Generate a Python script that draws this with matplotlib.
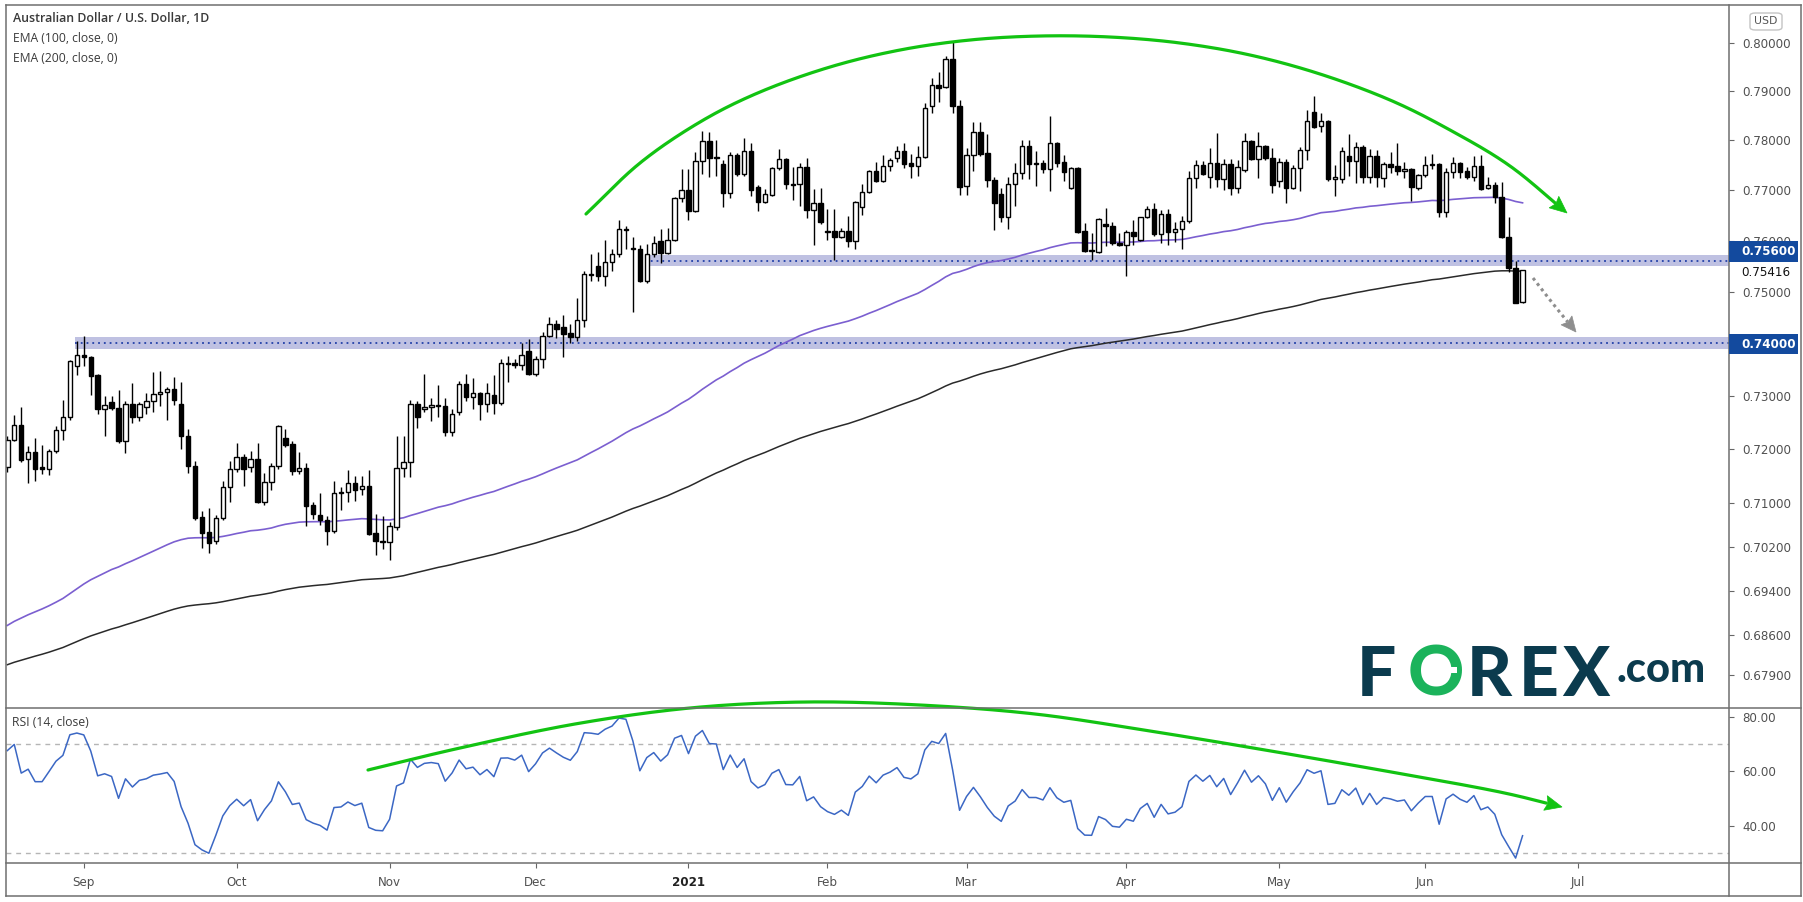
import numpy as np
import pandas as pd
import matplotlib
matplotlib.use("Agg")
import matplotlib.pyplot as plt
from matplotlib.patches import Rectangle, FancyBboxPatch, Polygon
from matplotlib.lines import Line2D
from matplotlib.ticker import NullLocator, FixedLocator, FixedFormatter

# ------------------------------------------------------------------ data
opens = [.7166,.7217,.7245,.7181,.7194,.7166,.7162,.7196,.7235,.7259,.7357,.7377,.7373,.7339,.7275,.7288,.7277,.7214,.7284,.7259,
         .7278,.7290,.7303,.7307,.7312,.7284,.7225,.7169,.7074,.7046,.7031,.7072,.7129,.7163,.7185,.7167,.7182,.7102,.7138,.7168,
         .7220,.7209,.7159,.7164,.7096,.7078,.7069,.7048,.7118,.7120,.7136,.7125,.7131,.7044,.7031,.7028,.7055,.7164,.7176,.7284,
         .7275,.7279,.7282,.7281,.7232,.7270,.7322,.7298,.7305,.7285,.7302,.7287,.7361,.7362,.7358,.7386,.7342,.7370,.7415,.7437,
         .7432,.7420,.7412,.7444,.7534,.7549,.7531,.7557,.7574,.7622,.7585,.7584,.7521,.7573,.7600,.7576,.7602,.7684,.7700,.7659,
         .7758,.7798,.7766,.7752,.7695,.7770,.7732,.7778,.7706,.7677,.7690,.7744,.7762,.7713,.7712,.7746,.7660,.7675,.7619,.7619,
         .7607,.7619,.7600,.7666,.7697,.7738,.7718,.7748,.7765,.7778,.7754,.7749,.7766,.7869,.7912,.7908,.7966,.7869,.7709,.7770,
         .7816,.7774,.7721,.7692,.7647,.7712,.7734,.7788,.7755,.7754,.7743,.7794,.7756,.7705,.7744,.7618,.7581,.7578,.7633,.7629,
         .7596,.7592,.7616,.7602,.7646,.7662,.7612,.7652,.7617,.7622,.7638,.7724,.7750,.7726,.7754,.7722,.7752,.7704,.7740,.7798,
         .7762,.7788,.7764,.7718,.7756,.7705,.7744,.7780,.7857,.7829,.7839,.7722,.7722,.7768,.7759,.7787,.7726,.7769,.7724,.7752,
         .7748,.7739,.7743,.7704,.7730,.7752,.7752,.7657,.7737,.7754,.7738,.7727,.7748,.7704,.7710,.7686,.7606,.7547,.7479]
highs = [.7224,.7264,.7279,.7206,.7220,.7207,.7199,.7243,.7292,.7368,.7404,.7415,.7375,.7341,.7300,.7300,.7311,.7291,.7325,.7288,
         .7305,.7346,.7347,.7316,.7336,.7327,.7238,.7177,.7085,.7091,.7078,.7140,.7177,.7212,.7191,.7196,.7212,.7155,.7173,.7245,
         .7237,.7214,.7195,.7174,.7102,.7118,.7075,.7140,.7129,.7161,.7150,.7150,.7161,.7080,.7076,.7064,.7224,.7224,.7292,.7290,
         .7341,.7295,.7320,.7295,.7275,.7328,.7341,.7333,.7308,.7325,.7339,.7370,.7376,.7370,.7400,.7408,.7376,.7421,.7451,.7444,
         .7454,.7437,.7488,.7541,.7574,.7578,.7601,.7583,.7640,.7628,.7606,.7592,.7594,.7609,.7622,.7625,.7687,.7743,.7743,.7777,
         .7820,.7818,.7801,.7760,.7777,.7774,.7805,.7795,.7710,.7702,.7746,.7782,.7765,.7747,.7754,.7765,.7702,.7704,.7662,.7662,
         .7625,.7648,.7678,.7712,.7740,.7757,.7771,.7764,.7788,.7795,.7772,.7789,.7876,.7927,.7940,.7973,.8004,.7882,.7785,.7837,
         .7837,.7812,.7727,.7704,.7727,.7754,.7801,.7801,.7779,.7760,.7850,.7797,.7770,.7746,.7746,.7635,.7614,.7644,.7664,.7637,
         .7614,.7620,.7640,.7647,.7668,.7675,.7660,.7662,.7636,.7648,.7739,.7760,.7759,.7784,.7815,.7762,.7762,.7760,.7815,.7801,
         .7818,.7791,.7784,.7765,.7762,.7750,.7786,.7862,.7891,.7855,.7842,.7750,.7786,.7812,.7797,.7790,.7783,.7781,.7757,.7776,
         .7794,.7757,.7745,.7732,.7768,.7773,.7754,.7745,.7766,.7757,.7747,.7768,.7771,.7726,.7717,.7717,.7647,.7559,.7542]
lows = [.7158,.7214,.7175,.7137,.7141,.7153,.7152,.7192,.7217,.7254,.7340,.7357,.7301,.7266,.7224,.7273,.7212,.7193,.7249,.7253,
        .7266,.7269,.7280,.7254,.7283,.7200,.7156,.7068,.7018,.7009,.7025,.7069,.7102,.7157,.7132,.7158,.7100,.7096,.7124,.7163,
        .7204,.7152,.7153,.7058,.7070,.7059,.7022,.7045,.7087,.7102,.7104,.7115,.7041,.7005,.7015,.6996,.7050,.7147,.7147,.7240,
        .7269,.7253,.7260,.7225,.7224,.7264,.7291,.7275,.7254,.7269,.7266,.7283,.7326,.7352,.7349,.7340,.7338,.7352,.7412,.7411,
        .7373,.7400,.7405,.7431,.7520,.7520,.7510,.7540,.7567,.7583,.7461,.7518,.7516,.7567,.7556,.7574,.7600,.7676,.7640,.7657,
        .7733,.7727,.7728,.7666,.7685,.7728,.7728,.7688,.7658,.7674,.7688,.7740,.7702,.7680,.7668,.7644,.7591,.7632,.7601,.7562,
        .7604,.7588,.7583,.7650,.7694,.7717,.7717,.7739,.7756,.7744,.7724,.7729,.7764,.7855,.7879,.7906,.7855,.7690,.7690,.7738,
        .7769,.7707,.7621,.7636,.7622,.7668,.7722,.7722,.7709,.7734,.7699,.7747,.7718,.7702,.7615,.7578,.7561,.7576,.7590,.7591,
        .7590,.7530,.7591,.7600,.7644,.7608,.7595,.7591,.7598,.7584,.7635,.7705,.7730,.7705,.7706,.7700,.7690,.7695,.7737,.7760,
        .7724,.7760,.7695,.7706,.7675,.7703,.7698,.7760,.7826,.7818,.7719,.7688,.7714,.7729,.7714,.7715,.7715,.7706,.7707,.7734,
        .7730,.7724,.7678,.7700,.7727,.7743,.7646,.7647,.7724,.7724,.7722,.7718,.7700,.7702,.7674,.7604,.7539,.7477,.7478]
closes = [.7217,.7245,.7179,.7194,.7162,.7162,.7196,.7235,.7259,.7366,.7377,.7373,.7338,.7275,.7283,.7276,.7214,.7284,.7259,.7284,
          .7290,.7303,.7307,.7312,.7292,.7225,.7169,.7073,.7045,.7026,.7072,.7129,.7163,.7185,.7162,.7182,.7102,.7138,.7168,.7243,
          .7208,.7159,.7164,.7095,.7079,.7069,.7048,.7118,.7120,.7136,.7124,.7131,.7043,.7031,.7029,.7058,.7164,.7176,.7284,.7259,
          .7279,.7283,.7280,.7232,.7265,.7322,.7298,.7305,.7285,.7305,.7287,.7362,.7363,.7358,.7378,.7341,.7370,.7415,.7437,.7427,
          .7418,.7412,.7444,.7534,.7533,.7531,.7557,.7574,.7622,.7620,.7583,.7521,.7573,.7595,.7576,.7602,.7684,.7700,.7659,.7758,
          .7798,.7765,.7764,.7695,.7770,.7732,.7778,.7701,.7677,.7692,.7744,.7762,.7712,.7711,.7746,.7660,.7675,.7637,.7617,.7606,
          .7619,.7600,.7676,.7697,.7738,.7718,.7748,.7760,.7778,.7753,.7749,.7766,.7865,.7912,.7907,.7966,.7869,.7707,.7770,.7816,
          .7773,.7721,.7675,.7647,.7712,.7734,.7788,.7753,.7753,.7743,.7794,.7755,.7737,.7744,.7617,.7580,.7579,.7642,.7628,.7596,
          .7592,.7616,.7608,.7646,.7662,.7612,.7652,.7617,.7622,.7638,.7724,.7750,.7732,.7754,.7722,.7752,.7704,.7746,.7798,.7762,
          .7788,.7764,.7710,.7756,.7705,.7744,.7780,.7839,.7828,.7839,.7722,.7726,.7779,.7759,.7787,.7726,.7769,.7726,.7752,.7747,
          .7739,.7743,.7707,.7730,.7750,.7750,.7657,.7737,.7754,.7737,.7727,.7748,.7702,.7710,.7686,.7606,.7547,.7478,.75416]

first_day, last_day = "2020-08-17", "2021-06-21"
closed_days = ["2020-12-25", "2021-01-01"]
ema100_start, ema200_start = 0.6871, 0.6804          # EMA values at the left edge
rsi_prev_close, rsi_avg_gain0, rsi_avg_loss0 = 0.7166, 0.0017, 0.0010

price_ticks = [0.679, 0.686, 0.694, 0.702, 0.710, 0.720, 0.730, 0.740, 0.750, 0.760, 0.770, 0.780, 0.790, 0.800]
rsi_ticks = [40, 60, 80]
support_levels = [0.7400, 0.7560]
support_bands = [(0.7390, 0.7412), (0.7550, 0.7572)]
support_start = ["2020-08-31", "2020-12-23"]
level_labels = ["0.74000", "0.75600"]
last_label = "0.75416"

# ------------------------------------------------------------------ helpers
W, H = 1803, 902
fig = plt.figure(figsize=(W / 100, H / 100), dpi=100)
fig.patch.set_facecolor("white")


def F(x, y):
    return x / W, 1 - y / H


dates = [d for d in pd.bdate_range(first_day, last_day) if d.strftime("%Y-%m-%d") not in closed_days]
n = len(closes)
if len(dates) != n or len(opens) != n or len(highs) != n or len(lows) != n:
    raise SystemExit(f"length mismatch {len(dates)} {len(opens)} {len(highs)} {len(lows)} {n}")
future = list(pd.bdate_range("2021-06-22", "2021-07-30"))
all_days = dates + future

L, R, T, PB, RB, B = 6, 1729, 5, 708, 863, 896
ax = fig.add_axes([L / W, 1 - PB / H, (R - L) / W, (PB - T) / H])
axr = fig.add_axes([L / W, 1 - RB / H, (R - L) / W, (RB - PB) / H], sharex=ax)

x = np.arange(n)
o, h, l, c = map(np.array, (opens, highs, lows, closes))

# ------------------------------------------------------------------ candles
ax.set_yscale("log")
ax.vlines(x, l, h, color="black", lw=1.0, zorder=3)
lo = np.minimum(o, c)
hi = np.maximum(o, c)
ax.bar(x, hi - lo, bottom=lo, width=0.64, color=np.where(c >= o, "white", "black"),
       edgecolor="black", linewidth=1.0, zorder=4)


def ema(vals, span, seed):
    a = 2 / (span + 1)
    e = seed
    out = []
    for v in vals:
        e += a * (v - e)
        out.append(e)
    return np.array(out)


def rsi(vals, period, prev, g0, l0):
    ag, al, pc = g0, l0, prev
    out = []
    for v in vals:
        ch = v - pc
        pc = v
        ag = (ag * (period - 1) + max(ch, 0)) / period
        al = (al * (period - 1) + max(-ch, 0)) / period
        out.append(100 - 100 / (1 + ag / al))
    return np.array(out)


ax.plot(x, ema(closes, 100, ema100_start), color="#7b5fd0", lw=1.2, zorder=2)
ax.plot(x, ema(closes, 200, ema200_start), color="#2a2a2a", lw=1.1, zorder=2)

# support bands
date_idx = {d.strftime("%Y-%m-%d"): i for i, d in enumerate(dates)}
for lev, (b0, b1), sd in zip(support_levels, support_bands, support_start):
    x0 = date_idx[sd] - 0.3
    ax.add_patch(Rectangle((x0, b0), 400, b1 - b0, facecolor="#bfc1e2", edgecolor="none", zorder=1))
    ax.plot([x0, 400], [lev, lev], color="#2140a8", lw=1.3, ls=(0, (1, 2.2)), zorder=1.5)

ax.set_xlim(-0.19, 247.7)
ax.set_ylim(0.67321, 0.80788)
ax.yaxis.set_major_locator(FixedLocator(price_ticks))
tick_txt = [("" if f"{t:.5f}" in level_labels else f"{t:.5f}") for t in price_ticks]
ax.yaxis.set_major_formatter(FixedFormatter(tick_txt))
ax.yaxis.set_minor_locator(NullLocator())
ax.yaxis.tick_right()
ax.tick_params(axis="y", length=3.5, width=0.8, color="#666666", pad=6, labelsize=8.6, labelcolor="#505050")
ax.tick_params(axis="x", bottom=False, labelbottom=False)
for s in ax.spines.values():
    s.set_visible(False)

# ------------------------------------------------------------------ RSI
rv = rsi(closes, 14, rsi_prev_close, rsi_avg_gain0, rsi_avg_loss0)
axr.plot(x, rv, color="#3b67c4", lw=1.1, zorder=3)
for lv in (70, 30):
    axr.axhline(lv, color="#b5b5b5", lw=1.0, ls=(0, (3.5, 3.5)), zorder=1)
axr.set_ylim(26.4, 83.3)
axr.yaxis.set_major_locator(FixedLocator(rsi_ticks))
axr.yaxis.set_major_formatter(FixedFormatter([f"{t:.2f}" for t in rsi_ticks]))
axr.yaxis.tick_right()
axr.tick_params(axis="y", length=3.5, width=0.8, color="#666666", pad=6, labelsize=8.6, labelcolor="#505050")
for s in axr.spines.values():
    s.set_visible(False)

month_pos, month_lab = [], []
prev_m = None
for i, d in enumerate(all_days):
    if prev_m is not None and d.month != prev_m:
        month_pos.append(i)
        month_lab.append("2021" if d.month == 1 else d.strftime("%b"))
    prev_m = d.month
keep = [(p, s) for p, s in zip(month_pos, month_lab) if p < 247]
axr.set_xticks([p for p, _ in keep])
axr.set_xticklabels([s for _, s in keep])
axr.tick_params(axis="x", length=3.5, width=0.8, color="#666666", pad=6, labelsize=8.6, labelcolor="#505050")
for t in axr.get_xticklabels():
    if t.get_text() == "2021":
        t.set_fontweight("bold")
        t.set_color("#222222")

# ------------------------------------------------------------------ frame lines
frame_c = "#6f6f6f"
for (x0, y0, x1, y1) in [(L, T, 1801, T), (L, B, 1801, B), (L, T, L, B), (1801, T, 1801, B),
                         (R, T, R, B), (L, PB, 1801, PB), (L, RB, 1801, RB)]:
    fig.add_artist(Line2D([x0 / W, x1 / W], [1 - y0 / H, 1 - y1 / H], color=frame_c, lw=1.1,
                          transform=fig.transFigure, zorder=10))

# ------------------------------------------------------------------ axis labels & boxes
def box_label(txt, yc, face="#134a9e", color="white"):
    x0, y0 = F(R, yc + 10)
    fig.add_artist(Rectangle((x0, y0), (1798 - R) / W, 20 / H, transform=fig.transFigure,
                             facecolor=face, edgecolor="none", zorder=11))
    fig.text(1741 / W, 1 - yc / H, txt, color=color, fontsize=8.6, fontweight="bold",
             ha="left", va="center", zorder=12)


box_label(level_labels[1], 251.5)
fig.text(1741 / W, 1 - 272 / H, last_label, color="#111111", fontsize=8.6, ha="left", va="center", zorder=12)
box_label(level_labels[0], 344)

fig.add_artist(FancyBboxPatch((1750 / W, 1 - 30 / H), 32 / W, 17 / H, boxstyle="round,pad=0,rounding_size=0.003",
                              transform=fig.transFigure, facecolor="white", edgecolor="#c4c4c4", lw=1, zorder=11))
fig.text(1766 / W, 1 - 21.5 / H, "USD", fontsize=7.8, color="#555555", ha="center", va="center", zorder=12)

fig.text(13 / W, 1 - 18 / H, "Australian Dollar / U.S. Dollar, 1D", family="Open Sans", fontsize=8.9,
         fontweight="semibold", color="#3a3a3a", va="center")
fig.text(13 / W, 1 - 38.5 / H, "EMA (100, close, 0)", family="Open Sans", fontsize=8.7, color="#3a3a3a", va="center")
fig.text(13 / W, 1 - 58 / H, "EMA (200, close, 0)", family="Open Sans", fontsize=8.7, color="#3a3a3a", va="center")
fig.text(12 / W, 1 - 722 / H, "RSI (14, close)", family="Open Sans", fontsize=8.7, color="#3a3a3a", va="center")

# ------------------------------------------------------------------ drawings (pixel anchored)
def catmull(pts, k=24):
    P = np.asarray(pts, float)
    P = np.vstack([2 * P[0] - P[1], P, 2 * P[-1] - P[-2]])
    out = []
    t = np.linspace(0, 1, k, endpoint=False)[:, None]
    for i in range(1, len(P) - 2):
        p0, p1, p2, p3 = P[i - 1], P[i], P[i + 1], P[i + 2]
        out.append(0.5 * (2 * p1 + (-p0 + p2) * t + (2 * p0 - 5 * p1 + 4 * p2 - p3) * t ** 2
                          + (-p0 + 3 * p1 - 3 * p2 + p3) * t ** 3))
    out.append(P[-2][None, :])
    return np.vstack(out)


def arrow_curve(pts, color, lw, head_len, head_w, ls="-"):
    cv = catmull(pts)
    tip = cv[-1]
    d = cv[-1] - cv[-4]
    d = d / np.hypot(*d)
    nrm = np.array([-d[1], d[0]])
    base = tip - d * head_len
    keep = np.hypot(*(cv - tip).T) > head_len * 0.8
    seg = cv[keep]
    fig.add_artist(Line2D(seg[:, 0] / W, 1 - seg[:, 1] / H, color=color, lw=lw, ls=ls,
                          solid_capstyle="round", transform=fig.transFigure, zorder=9))
    tri = np.array([tip, base + nrm * head_w, base + d * head_len * 0.15, base - nrm * head_w])
    fig.add_artist(Polygon(np.c_[tri[:, 0] / W, 1 - tri[:, 1] / H], closed=True, transform=fig.transFigure,
                           facecolor=color, edgecolor=color, lw=0.5, zorder=9))


green = "#12c312"
price_arc = [(586, 214), (640, 163), (700, 122), (760, 92), (830, 67), (900, 50), (970, 40), (1040, 36),
             (1110, 37), (1180, 43), (1250, 55), (1320, 74), (1390, 100), (1450, 130), (1510, 166), (1567, 213)]
rsi_arc = [(368, 770), (460, 748), (575, 724), (690, 708), (805, 702), (920, 705), (1035, 714), (1150, 731),
           (1265, 750), (1380, 770), (1495, 791), (1562, 807)]
arrow_curve(price_arc, green, 2.3, 17, 7.5)
arrow_curve(rsi_arc, green, 2.3, 17, 7.5)
arrow_curve([(1533, 278), (1554, 305), (1576, 332)], "#8e8e8e", 2.2, 15, 7, ls=(0, (1, 1.2)))

# ------------------------------------------------------------------ FOREX.com logo
navy, lgreen = "#0b3b4e", "#1bb35b"
logo_font = dict(family="Lato", fontsize=50, fontweight="black")
for ch, xc, col in [("F", 1376, navy), ("O", 1436, lgreen), ("R", 1489, navy), ("E", 1539, navy), ("X", 1586, navy)]:
    fig.text(xc / W, 1 - 696 / H, ch, color=col, ha="center", va="baseline", zorder=12, **logo_font)
fig.add_artist(Rectangle((1440 / W, 1 - 673 / H), 17 / W, 6 / H, transform=fig.transFigure,
                         facecolor="white", edgecolor="none", zorder=13))
fig.text(1617 / W, 1 - 682 / H, ".com", color=navy, ha="left", va="baseline", zorder=12,
         family="Lato", fontsize=30, fontweight="black")

fig.savefig("out.png", dpi=100, facecolor="white")
